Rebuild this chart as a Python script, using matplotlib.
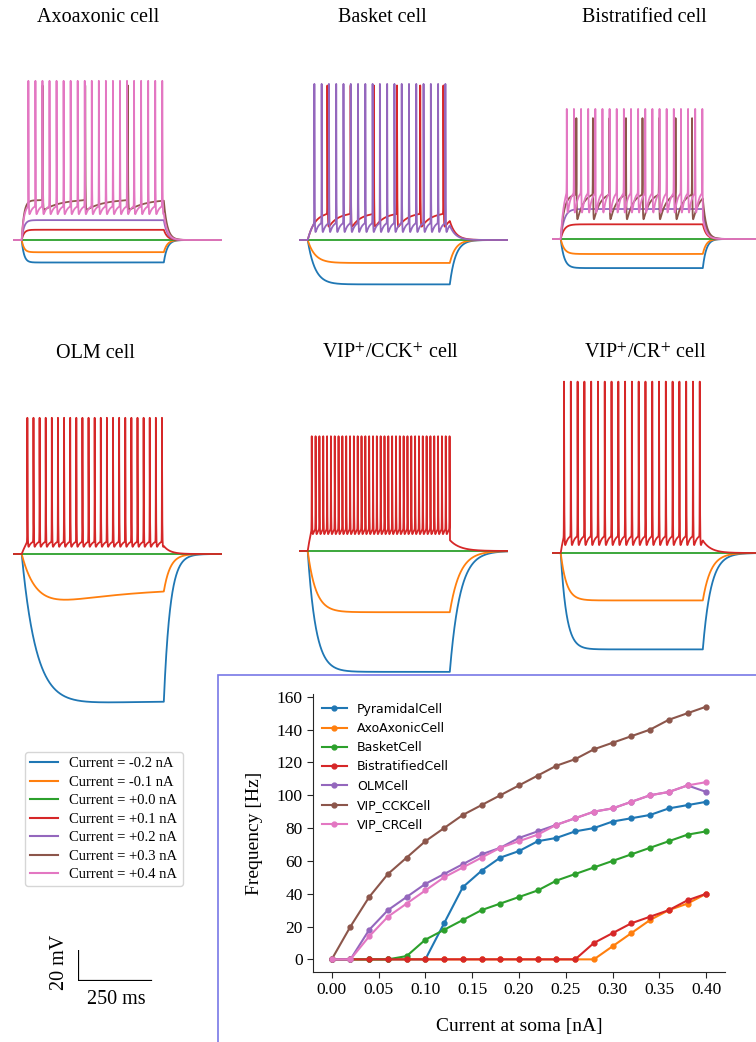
import numpy as np
import matplotlib
matplotlib.use('Agg')
import matplotlib.pyplot as plt
from matplotlib.lines import Line2D
from matplotlib.patches import Rectangle

plt.rcParams['mathtext.fontset'] = 'stix'
SERIF = 'Liberation Serif'

W, H = 756, 1042
PX_MS = 0.29      # horizontal scale of the voltage traces [px per ms]
PX_MV = 1.53      # vertical scale of the voltage traces [px per mV]
T_ON, T_OFF, T_END = 30.0, 520.0, 720.0

CURRENT_LABELS = ['Current = -0.2 nA', 'Current = -0.1 nA', 'Current = +0.0 nA',
                  'Current = +0.1 nA', 'Current = +0.2 nA', 'Current = +0.3 nA',
                  'Current = +0.4 nA']
TRACE_COLORS = ['C0', 'C1', 'C2', 'C3', 'C4', 'C5', 'C6']

# voltage responses, relative to rest [mV]; for spiking traces level = firing threshold
axo_level = [-14.7, -8.0, 0.0, 6.7, 13.0, 26.0, 22.0]
axo_nspk = [0, 0, 0, 0, 0, 3, 20]
axo_latency = [0, 0, 0, 0, 0, 72, 23]
axo_isi = [0, 0, 0, 0, 0, 147, 24.3]
axo_reset = [0, 0, 0, 0, 0, 19, 13]
axo_peak = [0, 0, 0, 0, 0, 101, 104]

basket_level = [-29.0, -15.0, 0.0, 17.0, 11.0]
basket_nspk = [0, 0, 0, 6, 19]
basket_latency = [0, 0, 0, 68, 23]
basket_isi = [0, 0, 0, 80, 25.1]
basket_reset = [0, 0, 0, 7, 1]
basket_peak = [0, 0, 0, 101, 102]

bistrat_level = [-19.0, -9.8, 0.0, 9.6, 19.6, 29.0, 30.0]
bistrat_nspk = [0, 0, 0, 0, 0, 8, 20]
bistrat_latency = [0, 0, 0, 0, 0, 54, 21]
bistrat_isi = [0, 0, 0, 0, 0, 57, 24.6]
bistrat_reset = [0, 0, 0, 0, 0, 9, 10]
bistrat_peak = [0, 0, 0, 0, 0, 79, 85]

olm_level = [-100.0, -40.0, 0.0, 8.0]
olm_sag = [4.0, 18.0, 0.0, 0.0]
olm_nspk = [0, 0, 0, 23]
olm_latency = [0, 0, 0, 19.5]
olm_isi = [0, 0, 0, 21.1]
olm_reset = [0, 0, 0, 1.5]
olm_peak = [0, 0, 0, 89]

cck_level = [-79.0, -40.0, 0.0, 14.0]
cck_nspk = [0, 0, 0, 37]
cck_latency = [0, 0, 0, 14]
cck_isi = [0, 0, 0, 13.2]
cck_reset = [0, 0, 0, 6]
cck_peak = [0, 0, 0, 75]

cr_level = [-63.0, -31.0, 0.0, 11.0]
cr_nspk = [0, 0, 0, 21]
cr_latency = [0, 0, 0, 11.5]
cr_isi = [0, 0, 0, 23.4]
cr_reset = [0, 0, 0, 0.5]
cr_peak = [0, 0, 0, 112]

# f-I curves
I_SOMA = [0.00, 0.02, 0.04, 0.06, 0.08, 0.10, 0.12, 0.14, 0.16, 0.18, 0.20,
          0.22, 0.24, 0.26, 0.28, 0.30, 0.32, 0.34, 0.36, 0.38, 0.40]
FI_NAMES = ['PyramidalCell', 'AxoAxonicCell', 'BasketCell', 'BistratifiedCell',
            'OLMCell', 'VIP_CCKCell', 'VIP_CRCell']
f_pyramidal = [0, 0, 0, 0, 0, 0, 22, 44, 54, 62, 66, 72, 74, 78, 80, 84, 86, 88, 92, 94, 96]
f_axoaxonic = [0, 0, 0, 0, 0, 0, 0, 0, 0, 0, 0, 0, 0, 0, 0, 8, 16, 24, 30, 34, 40]
f_basket = [0, 0, 0, 0, 2, 12, 18, 24, 30, 34, 38, 42, 48, 52, 56, 60, 64, 68, 72, 76, 78]
f_bistratified = [0, 0, 0, 0, 0, 0, 0, 0, 0, 0, 0, 0, 0, 0, 10, 16, 22, 26, 30, 36, 40]
f_olm = [0, 0, 18, 30, 38, 46, 52, 58, 64, 68, 74, 78, 82, 86, 90, 92, 96, 100, 102, 106, 102]
f_vip_cck = [0, 20, 38, 52, 62, 72, 80, 88, 94, 100, 106, 112, 118, 122, 128, 132, 136, 140, 146, 150, 154]
f_vip_cr = [0, 0, 14, 26, 34, 42, 50, 56, 62, 68, 72, 76, 82, 86, 90, 92, 96, 100, 102, 106, 108]

t = np.arange(0.0, T_END, 0.05)


def ramp(u, thr, rst):
    u = np.clip(u, 0.0, 1.0)
    return rst + (thr - rst) * (1 - np.exp(-u / 0.4)) / (1 - np.exp(-1 / 0.4))


def voltage(level, nspk, latency, isi, reset, peak, tau_on, tau_off, sag=0.0, tau_sag=250.0):
    v = np.zeros_like(t)
    stim = (t >= T_ON) & (t < T_OFF)
    s = t[stim] - T_ON
    if nspk == 0:
        v[stim] = level * (1 - np.exp(-s / tau_on)) + sag * (1 - np.exp(-s / tau_sag))
        v_end = v[stim][-1]
    else:
        times = latency + isi * np.arange(nspk)
        base = level * (1 - np.exp(-s / tau_on)) / (1 - np.exp(-latency / tau_on))
        kern = np.zeros_like(s)
        for k, ts in enumerate(times):
            after = s >= ts
            base[after] = ramp((s[after] - ts) / isi, level, reset)
            d = s - ts
            k_sp = np.where(d >= 0, np.exp(-np.abs(d) / 0.8), np.exp(-np.abs(d) / 0.3))
            kern = np.maximum(kern, k_sp)
        v_end = base[-1]
        v[stim] = base + (peak - base) * kern
    post = t >= T_OFF
    v[post] = v_end * np.exp(-(t[post] - T_OFF) / tau_off)
    return v


def px_axes(fig, x0, y_top, w, h):
    return fig.add_axes([x0 / W, 1 - (y_top + h) / H, w / W, h / H])


def trace_panel(fig, x0, y_base, title, title_xy, params, tau_on, tau_off, sags=None):
    lo, hi = -110.0, 125.0
    ax = px_axes(fig, x0, y_base - hi * PX_MV, T_END * PX_MS, (hi - lo) * PX_MV)
    level, nspk, lat, isi, rst, pk = params
    for i in range(len(level)):
        sag = sags[i] if sags else 0.0
        v = voltage(level[i], nspk[i], lat[i], isi[i], rst[i], pk[i], tau_on, tau_off, sag)
        ax.plot(t, v, color=TRACE_COLORS[i], lw=1.3)
    ax.set_xlim(0, T_END)
    ax.set_ylim(lo, hi)
    ax.axis('off')
    fig.text(title_xy[0] / W, 1 - title_xy[1] / H, title, ha='center', va='center',
             family=SERIF, fontsize=14.5)


fig = plt.figure(figsize=(W / 100, H / 100), dpi=100)

trace_panel(fig, 13, 240, 'Axoaxonic cell', (98, 17),
            (axo_level, axo_nspk, axo_latency, axo_isi, axo_reset, axo_peak), 8, 12)
trace_panel(fig, 299, 240, 'Basket cell', (382, 17),
            (basket_level, basket_nspk, basket_latency, basket_isi, basket_reset, basket_peak), 25, 20)
trace_panel(fig, 552, 239, 'Bistratified cell', (644, 17),
            (bistrat_level, bistrat_nspk, bistrat_latency, bistrat_isi, bistrat_reset, bistrat_peak), 12, 12)
trace_panel(fig, 13, 554, 'OLM cell', (95, 353),
            (olm_level, olm_nspk, olm_latency, olm_isi, olm_reset, olm_peak), 50, 22, olm_sag)
trace_panel(fig, 299, 551, r'VIP$^{+}$/CCK$^{+}$ cell', (390, 353),
            (cck_level, cck_nspk, cck_latency, cck_isi, cck_reset, cck_peak), 28, 35)
trace_panel(fig, 552, 553, r'VIP$^{+}$/CR$^{+}$ cell', (645, 353),
            (cr_level, cr_nspk, cr_latency, cr_isi, cr_reset, cr_peak), 20, 28)

# legend for the injected currents
handles = [Line2D([], [], color=c, lw=1.5) for c in TRACE_COLORS]
fig.legend(handles, CURRENT_LABELS, loc='upper left', bbox_to_anchor=(25 / W, 1 - 752 / H),
           borderaxespad=0, prop={'family': SERIF, 'size': 10.5}, handlelength=1.9,
           labelspacing=0.36, borderpad=0.35)

# scale bar
sb = px_axes(fig, 78, 950, 300 * PX_MS, 31)
sb.plot([0, 0, 250], [20, 0, 0], color='black', lw=1.6, solid_joinstyle='miter')
sb.set_xlim(0, 300)
sb.set_ylim(0, 31 / PX_MV)
sb.axis('off')
fig.text(60 / W, 1 - 962 / H, '20 mV', rotation=90, ha='center', va='center',
         family=SERIF, fontsize=14.5)
fig.text(116 / W, 1 - 1000 / H, '250 ms', ha='center', va='center', family=SERIF, fontsize=14.5)

# framed f-I inset
fig.patches.append(Rectangle((218 / W, -0.01), 0.72, 1 - 675 / H + 0.01, transform=fig.transFigure,
                             fill=False, edgecolor='#7878e6', lw=1.2))
ax = px_axes(fig, 313, 694, 412, 278)
for f in [f_pyramidal, f_axoaxonic, f_basket, f_bistratified, f_olm, f_vip_cck, f_vip_cr]:
    ax.plot(I_SOMA, f, marker='o', ms=3.5, lw=1.5)
ax.set_xticks([0.0, 0.05, 0.1, 0.15, 0.2, 0.25, 0.3, 0.35, 0.4])
ax.set_xticklabels(['%.2f' % x for x in ax.get_xticks()])
ax.set_yticks(range(0, 161, 20))
ax.spines['top'].set_visible(False)
ax.spines['right'].set_visible(False)
for sp in ax.spines.values():
    sp.set_color('0.15')
ax.tick_params(colors='0.15', labelsize=12.5, length=4)
for lab in ax.get_xticklabels() + ax.get_yticklabels():
    lab.set_family(SERIF)
    lab.set_color('black')
ax.set_xlabel('Current at soma [nA]', family=SERIF, fontsize=14, labelpad=14)
ax.set_ylabel('Frequency [Hz]', family=SERIF, fontsize=14, labelpad=10)
ax.legend(FI_NAMES, loc='upper left', frameon=False, fontsize=9, borderaxespad=0.3,
          handlelength=2.0)

fig.savefig('out.png', dpi=100)
